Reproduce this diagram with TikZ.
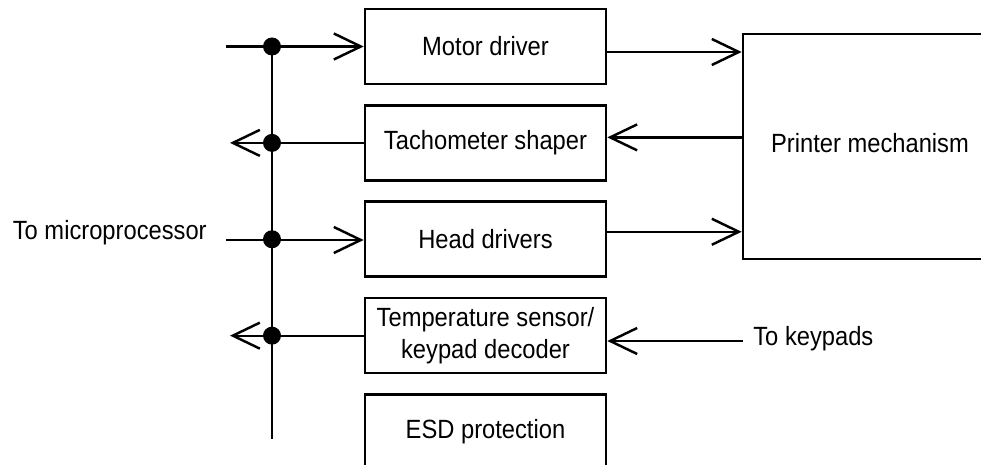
\documentclass[tikz,border=0pt]{standalone}
\usepackage{fontspec}
\setmainfont{Liberation Sans}[FakeStretch=0.9]
\usetikzlibrary{positioning, arrows.meta, calc}

\begin{document}
\begin{tikzpicture}[
            box/.style={rectangle, draw, line width=1.5pt, minimum width=4.82cm,
                        minimum height=1.5cm, font=\fontsize{15}{18}\selectfont, align=center},
            io/.style={font=\fontsize{15}{18}\selectfont},
            arrow/.style={-{Straight Barb[length=0.54cm, width=0.52cm, line width=1.4pt]}, line width=1.3pt},
            wire/.style={line width=1.3pt},
            dot/.style={circle, fill, inner sep=0pt, minimum size=0.36cm},
            node distance=0.375cm,
        ]
            \useasboundingbox (0,0) rectangle (19.62,-9.3);
            \clip (0,0) rectangle (19.62,-9.3);

            % Column of interface blocks
            \node[box] (motor) at (9.71,-0.93) {Motor driver};
            \node[box, below=of motor] (tacho) {Tachometer shaper};
            \node[box, below=of tacho] (head)  {Head drivers};
            \node[box, below=of head]  (temp)  {Temperature sensor/\\keypad decoder};
            \node[box, below=of temp]  (esd)   {ESD protection};

            % Mechanism on the right
            \node[box, minimum width=5.08cm, minimum height=4.5cm] (printer) at (17.4,-2.93)
                {\raisebox{0.13cm}{Printer mechanism}};

            % Bus to the microprocessor
            \coordinate (bustop) at (5.44,-0.93);
            \coordinate (busbot) at (5.44,-8.78);
            \coordinate (inx)  at (4.52,0);
            \coordinate (outx) at (4.6,0);
            \draw[wire] (bustop) -- (busbot);

            \node[io, anchor=base east, inner xsep=0.38cm] (micro) at (4.52,-4.8) {To microprocessor};
            \node[io, anchor=mid west, inner xsep=0.2cm] (keypad) at (14.86,-6.82) {To keypads};

            \draw[arrow] (motor.west -| inx) -- (motor.west);
            \draw[arrow] (tacho.west) -- (tacho.west -| outx);
            \draw[arrow] (micro.base east) -- (micro.base east -| head.west);
            \draw[arrow] (temp.west) -- (temp.west -| outx);

            \foreach \blk in {motor, tacho, head, temp}
                \node[dot] at (\blk.west -| bustop) {};

            % Links to the mechanism
            \draw[arrow] ([yshift=-0.11cm]motor.east) -- ([yshift=-0.11cm]motor.east -| printer.west);
            \draw[arrow] ([yshift=0.11cm]tacho.east -| printer.west) -- ([yshift=0.11cm]tacho.east);
            \draw[arrow] ([yshift=0.15cm]head.east) -- ([yshift=0.15cm]head.east -| printer.west);
            \draw[arrow] (keypad.mid west) -- (keypad.mid west -| temp.east);
        \end{tikzpicture}
\end{document}
